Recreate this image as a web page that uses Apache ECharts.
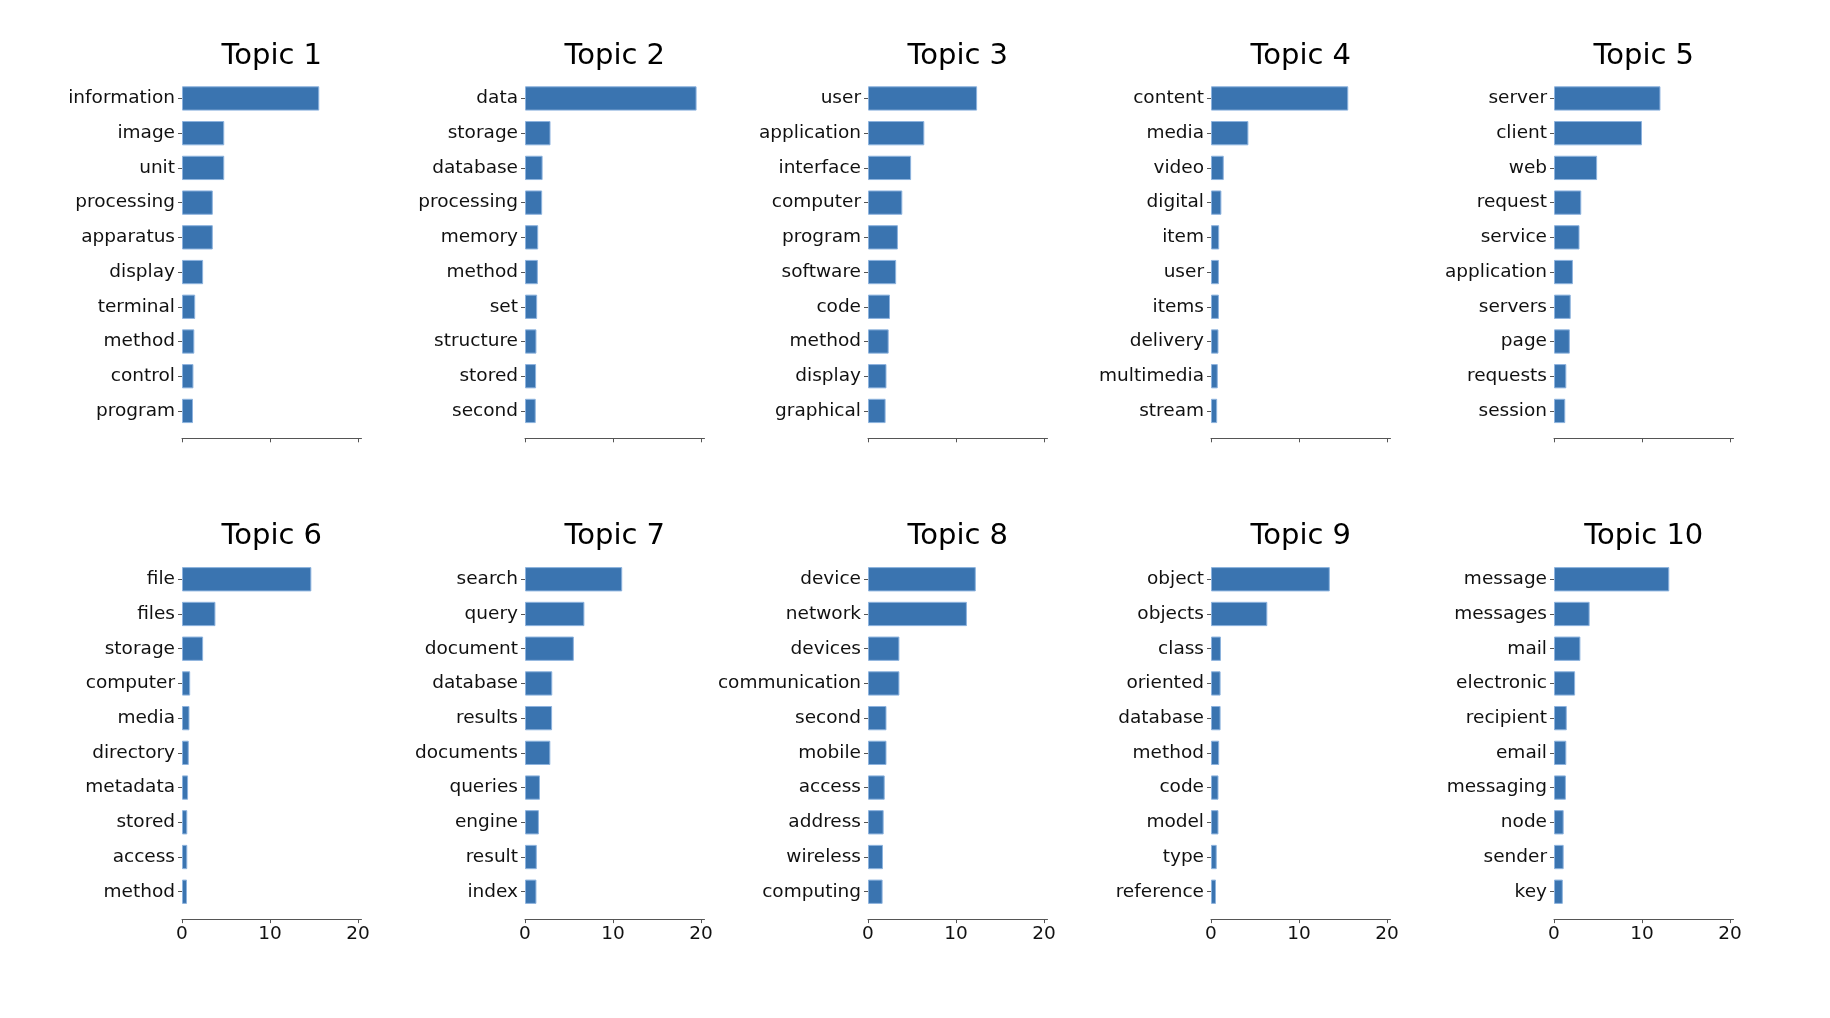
<!DOCTYPE html>
<html><head><meta charset="utf-8">
<script src="https://cdn.jsdelivr.net/npm/echarts@6/dist/echarts.min.js"></script>
<style>html,body{margin:0;padding:0;background:#fff}#c{width:1830px;height:1018px}</style>
</head><body><div id="c"></div>
<script>
const topicTitles = ['Topic 1','Topic 2','Topic 3','Topic 4','Topic 5','Topic 6','Topic 7','Topic 8','Topic 9','Topic 10'];

const words1 = ['information','image','unit','processing','apparatus','display','terminal','method','control','program'];
const values1 = [15.6, 4.8, 4.8, 3.5, 3.5, 2.4, 1.5, 1.4, 1.3, 1.25];

const words2 = ['data','storage','database','processing','memory','method','set','structure','stored','second'];
const values2 = [19.5, 2.9, 2.0, 1.95, 1.5, 1.46, 1.38, 1.3, 1.26, 1.22];

const words3 = ['user','application','interface','computer','program','software','code','method','display','graphical'];
const values3 = [12.4, 6.4, 4.9, 3.9, 3.4, 3.2, 2.5, 2.35, 2.1, 2.0];

const words4 = ['content','media','video','digital','item','user','items','delivery','multimedia','stream'];
const values4 = [15.6, 4.25, 1.45, 1.18, 0.93, 0.9, 0.9, 0.85, 0.77, 0.7];

const words5 = ['server','client','web','request','service','application','servers','page','requests','session'];
const values5 = [12.1, 10.0, 4.9, 3.1, 2.9, 2.15, 1.9, 1.8, 1.4, 1.28];

const words6 = ['file','files','storage','computer','media','directory','metadata','stored','access','method'];
const values6 = [14.7, 3.8, 2.4, 0.93, 0.85, 0.77, 0.69, 0.6, 0.6, 0.57];

const words7 = ['search','query','document','database','results','documents','queries','engine','result','index'];
const values7 = [11.05, 6.75, 5.55, 3.1, 3.08, 2.88, 1.7, 1.58, 1.34, 1.3];

const words8 = ['device','network','devices','communication','second','mobile','access','address','wireless','computing'];
const values8 = [12.25, 11.24, 3.57, 3.57, 2.1, 2.1, 1.9, 1.78, 1.7, 1.66];

const words9 = ['object','objects','class','oriented','database','method','code','model','type','reference'];
const values9 = [13.5, 6.4, 1.13, 1.09, 1.09, 0.93, 0.85, 0.85, 0.65, 0.57];

const words10 = ['message','messages','mail','electronic','recipient','email','messaging','node','sender','key'];
const values10 = [13.1, 4.05, 3.0, 2.4, 1.45, 1.4, 1.35, 1.1, 1.1, 1.0];

const xTickValues = [0, 10, 20];
const xMax = 20.4;

const allWords = [words1,words2,words3,words4,words5,words6,words7,words8,words9,words10];
const allValues = [values1,values2,values3,values4,values5,values6,values7,values8,values9,values10];

const FONT = 'DejaVu Sans';
const colLeft = [182, 525, 868, 1211, 1554];
const rowTop = [81.1, 561.9];
const rowTitleTop = [41, 521];
const gridW = 179.5, gridH = 347.2;

const grids = [], xAxes = [], yAxes = [], series = [], titles = [];
for (let i = 0; i < 10; i++) {
  const c = i % 5, r = Math.floor(i / 5);
  grids.push({left: colLeft[c], top: rowTop[r], width: gridW, height: gridH, containLabel: false});
  titles.push({
    text: topicTitles[i], left: colLeft[c] + gridW / 2, top: rowTitleTop[r],
    textAlign: 'center', padding: 0,
    textStyle: {fontSize: 29, fontWeight: 'normal', color: '#000', fontFamily: FONT, lineHeight: 30}
  });
  xAxes.push({
    gridIndex: i, type: 'value', min: 0, max: xMax, interval: 10, offset: 10,
    splitLine: {show: false},
    axisLine: {show: true, lineStyle: {color: '#555', width: 1}},
    axisTick: {show: true, length: 4, customValues: xTickValues, lineStyle: {color: '#555'}},
    axisLabel: {show: r === 1, customValues: xTickValues, fontSize: 18.5, color: '#111', margin: 6, fontFamily: FONT}
  });
  yAxes.push({
    gridIndex: i, type: 'category', inverse: true, data: allWords[i],
    axisLine: {show: false},
    axisTick: {show: true, alignWithLabel: true, length: 4, lineStyle: {color: '#555'}},
    axisLabel: {fontSize: 18.5, color: '#111', margin: 7, fontFamily: FONT},
    splitLine: {show: false}
  });
  series.push({
    type: 'bar', xAxisIndex: i, yAxisIndex: i, data: allValues[i], barWidth: '70%',
    itemStyle: {color: '#3a74b0', borderColor: '#8db3de', borderWidth: 1},
    silent: true
  });
}

const chart = echarts.init(document.getElementById('c'), null, {renderer: 'canvas'});
chart.setOption({
  animation: false,
  backgroundColor: '#fff',
  title: titles,
  grid: grids,
  xAxis: xAxes,
  yAxis: yAxes,
  series: series
});
</script></body></html>
